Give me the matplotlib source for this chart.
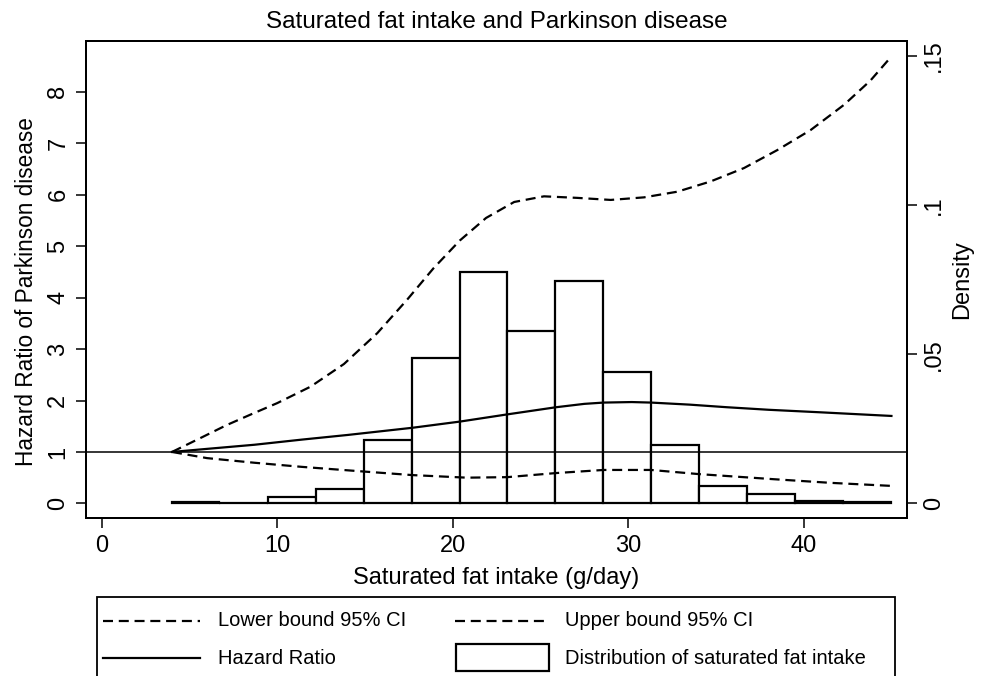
"""Saturated fat intake vs hazard ratio of Parkinson disease, with intake histogram."""

import matplotlib
matplotlib.use("Agg")
import matplotlib.pyplot as plt
from matplotlib.lines import Line2D
from matplotlib.patches import Rectangle

plt.rcParams["font.family"] = ["Liberation Sans", "DejaVu Sans"]

# spline curves (g/day, hazard ratio)
hr_x = [4.0, 6.0, 8.7, 11.4, 14.0, 17.7, 20.4, 23.1, 25.9, 27.5, 28.6, 30.2,
        31.3, 33.5, 35.6, 38.0, 41.0, 43.0, 45.0]
hr = [1.00, 1.06, 1.14, 1.24, 1.33, 1.47, 1.59, 1.73, 1.87, 1.935, 1.96, 1.97,
      1.96, 1.92, 1.87, 1.82, 1.77, 1.735, 1.70]

lo_x = [4.0, 6.0, 8.7, 11.4, 14.9, 17.7, 20.8, 23.1, 25.9, 28.6, 31.3, 34.0,
        38.3, 41.5, 45.0]
lower_ci = [1.00, 0.88, 0.79, 0.71, 0.62, 0.55, 0.50, 0.51, 0.59, 0.65, 0.65,
            0.57, 0.47, 0.40, 0.34]

up_x = [4.0, 5.5, 7.1, 8.5, 10.0, 11.9, 13.8, 15.7, 17.4, 18.9, 20.4, 21.9,
        23.5, 25.2, 27.1, 29.0, 30.9, 32.8, 34.7, 36.6, 38.5, 40.4, 42.3, 43.8, 45.0]
upper_ci = [1.00, 1.25, 1.52, 1.73, 1.95, 2.27, 2.71, 3.31, 3.96, 4.57, 5.11, 5.55,
            5.86, 5.97, 5.94, 5.90, 5.95, 6.06, 6.26, 6.52, 6.87, 7.26, 7.75, 8.22, 8.69]

# histogram of intake (density scale)
bin_edges = [4.02, 6.70, 9.50, 12.21, 14.95, 17.65, 20.39, 23.12, 25.83, 28.57,
             31.30, 34.04, 36.77, 39.51, 42.26, 45.0]
density = [0.0005, 0.0002, 0.0022, 0.0049, 0.0212, 0.0489, 0.0776, 0.0578,
           0.0746, 0.0441, 0.0197, 0.0057, 0.0030, 0.0009, 0.0005]

HR_LIM = (-0.29, 8.99)
DENS_PER_HR = 0.05 / 2.9  # .05 density sits at HR ~2.9
W, H = 983, 676


def fx(px):
    return px / W


def fy(py):
    return 1 - py / H


def main() -> None:
    fig = plt.figure(figsize=(W / 100, H / 100), dpi=100)
    ax = fig.add_axes([fx(86), fy(518.3), fx(906.7) - fx(86), fy(41) - fy(518.3)])
    ax2 = ax.twinx()

    widths = [b - a for a, b in zip(bin_edges[:-1], bin_edges[1:])]
    ax2.bar(bin_edges[:-1], density, width=widths, align="edge",
            facecolor="white", edgecolor="black", linewidth=1.6)
    ax2.set_ylim(HR_LIM[0] * DENS_PER_HR, HR_LIM[1] * DENS_PER_HR)
    ax2.set_yticks([0, 0.05, 0.1, 0.15])
    ax2.set_yticklabels(["0", ".05", ".1", ".15"], rotation=90, va="center")
    ax2.set_ylabel("Density", fontsize=17, labelpad=4)

    ax.set_zorder(ax2.get_zorder() + 1)
    ax.patch.set_visible(False)
    dash = (0, (4.5, 2.6))
    ax.axhline(1, color="black", lw=1.1)
    ax.plot(lo_x, lower_ci, color="black", lw=1.6, linestyle=dash)
    ax.plot(up_x, upper_ci, color="black", lw=1.6, linestyle=dash)
    ax.plot(hr_x, hr, color="black", lw=1.6)

    ax.set_xlim(-0.9, 45.87)
    ax.set_ylim(*HR_LIM)
    ax.set_xticks([0, 10, 20, 30, 40])
    ax.set_yticks(range(0, 9))
    ax.set_yticklabels([str(v) for v in range(0, 9)], rotation=90, va="center")
    ax.set_xlabel("Saturated fat intake (g/day)", fontsize=17, labelpad=7)
    ax.set_ylabel("Hazard Ratio of Parkinson disease", fontsize=16.3)
    ax.yaxis.set_label_coords(-0.059, 0.476)
    ax.set_title("Saturated fat intake and Parkinson disease", fontsize=17.5, pad=9)

    for a in (ax, ax2):
        a.tick_params(direction="out", length=7, width=1.1, labelsize=17, pad=5)
        for s in a.spines.values():
            s.set_linewidth(1.4)

    # legend box, laid out like the Stata original
    fig.patches.append(Rectangle((fx(97), fy(690)), fx(895) - fx(97), fy(597) - fy(690),
                                 transform=fig.transFigure, facecolor="white",
                                 edgecolor="black", linewidth=1.3))
    rows = [fy(621), fy(658)]
    entries = [
        ("line", dash, "Lower bound 95% CI", 103, 200, 218, rows[0]),
        ("line", dash, "Upper bound 95% CI", 455, 548, 565, rows[0]),
        ("line", "-", "Hazard Ratio", 103, 200, 218, rows[1]),
        ("box", None, "Distribution of saturated fat intake", 456, 549, 565, rows[1]),
    ]
    for kind, ls, text, x0, x1, xt, yr in entries:
        if kind == "line":
            fig.lines.append(Line2D([fx(x0), fx(x1)], [yr, yr], transform=fig.transFigure,
                                    color="black", lw=1.6, linestyle=ls))
        else:
            fig.patches.append(Rectangle((fx(x0), fy(671)), fx(x1) - fx(x0), fy(644) - fy(671),
                                         transform=fig.transFigure, facecolor="white",
                                         edgecolor="black", linewidth=1.6))
        fig.text(fx(xt), yr, text, fontsize=14.5, va="center", ha="left")

    fig.savefig("out.png", dpi=100)


if __name__ == "__main__":
    main()
